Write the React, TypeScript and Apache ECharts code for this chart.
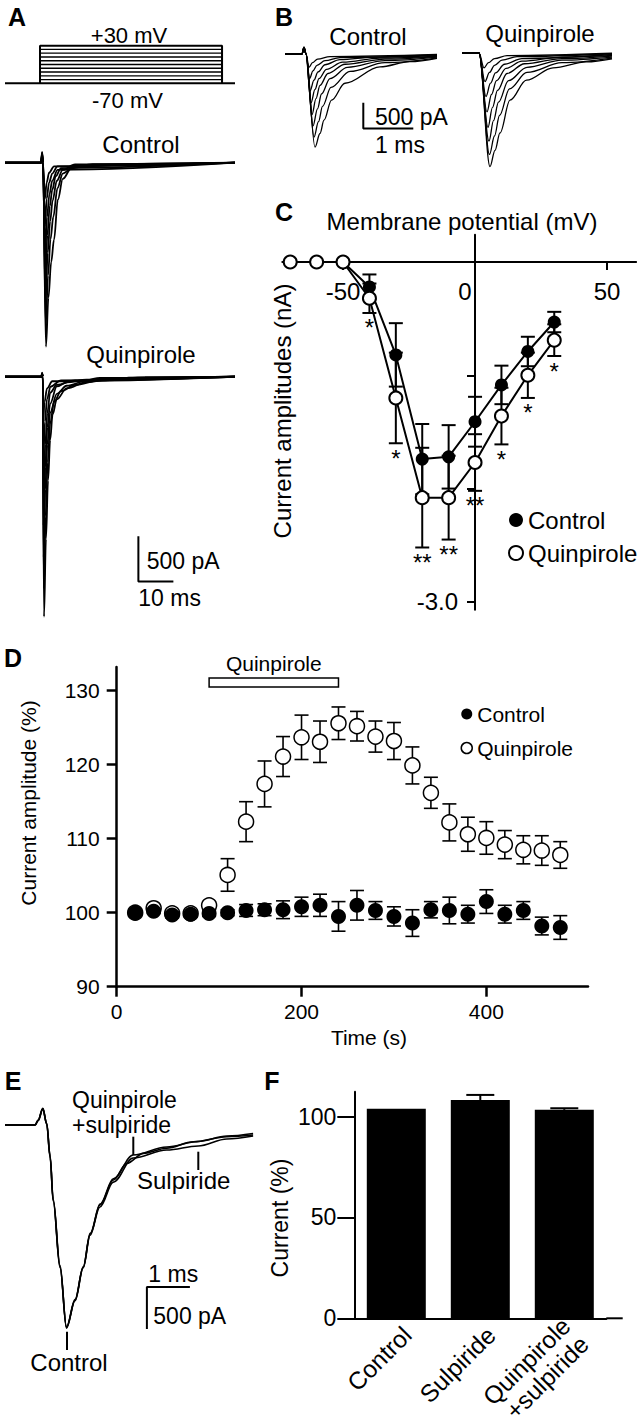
import React, { useEffect, useRef } from 'react';
import * as echarts from 'echarts';

const FONT = "'Liberation Sans', Arial, Helvetica, sans-serif";

// ---------------- Panel A : voltage protocol + current families ----------------
const aHoldingMV = -70;
const aStepLevelsMV = [-60, -50, -40, -30, -20, -10, 0, 10, 20, 30];
const aStepWindowMs = [10, 62];
const aSweepSpanMs = [0, 65.7];

// [time (ms), current (pA)]
const aControlSweeps: number[][][] = [
  [[0, 0], [10.3, 0], [10.6, 120], [10.85, 0], [11.7, -2042], [12.4, -1500], [13.2, -1100], [14, -855], [15.1, -410], [16.5, -180], [19, -60], [25, -15], [65.7, 0]],
  [[0, 0], [10.3, 0], [10.6, 110], [10.85, 0], [11.65, -1800], [12.3, -1250], [13, -850], [13.8, -600], [15, -280], [16.5, -120], [20, -30], [65.7, 0]],
  [[0, 0], [10.3, 0], [10.6, 100], [10.85, 0], [11.6, -1550], [12.2, -1000], [12.9, -650], [13.6, -420], [14.8, -200], [16.5, -80], [20, -20], [65.7, 0]],
  [[0, 0], [10.3, 0], [10.6, 90], [10.85, 0], [11.55, -1300], [12.1, -800], [12.8, -480], [13.5, -300], [14.5, -150], [16, -60], [65.7, 0]],
  [[0, 0], [10.3, 0], [10.6, 80], [10.85, 0], [11.5, -1000], [12, -600], [12.7, -350], [13.5, -200], [15, -80], [65.7, 0]],
  [[0, 0], [10.3, 0], [10.6, 70], [10.85, 0], [11.45, -700], [11.9, -400], [12.6, -220], [13.5, -120], [15, -40], [65.7, 0]],
  [[0, 0], [10.3, 0], [10.6, 60], [10.85, 0], [11.4, -400], [11.9, -220], [12.6, -110], [14, -40], [65.7, 0]],
];
const aQuinpiroleSweeps: number[][][] = [
  [[0, 0], [10.4, 0], [10.6, 45], [10.8, 0], [11.14, -2664], [11.7, -1800], [12.3, -1150], [12.9, -700], [13.6, -420], [14.8, -250], [17.6, -130], [23.3, -60], [30, -25], [40, -8], [65.7, 0]],
  [[0, 0], [10.4, 0], [10.6, 40], [10.8, 0], [11.1, -2350], [11.6, -1550], [12.2, -950], [12.9, -520], [14, -280], [16, -160], [20, -90], [27.1, -40], [40, -10], [65.7, 0]],
  [[0, 0], [10.4, 0], [10.6, 35], [10.8, 0], [11.05, -2000], [11.5, -1250], [12.1, -750], [12.9, -400], [14.8, -190], [17.6, -100], [23.3, -45], [35, -10], [65.7, 0]],
  [[0, 0], [10.4, 0], [10.6, 30], [10.8, 0], [11.0, -1650], [11.5, -1000], [12.1, -560], [12.9, -300], [14.8, -108], [17.6, -63], [23.3, -33], [27.1, -14], [65.7, 0]],
  [[0, 0], [10.4, 0], [10.6, 25], [10.8, 0], [11.0, -1300], [11.5, -750], [12.1, -400], [12.9, -178], [14.8, -90], [20, -40], [65.7, 0]],
  [[0, 0], [10.4, 0], [10.6, 20], [10.8, 0], [10.95, -900], [11.4, -500], [12, -250], [13, -110], [16, -40], [65.7, 0]],
  [[0, 0], [10.4, 0], [10.6, 15], [10.8, 0], [10.9, -500], [11.3, -280], [12, -130], [13.5, -50], [65.7, 0]],
];
const aScaleBar = [[38.1, -1772], [38.1, -2272], [48.1, -2272]]; // 500 pA, 10 ms

// ---------------- Panel B : expanded current families ----------------
const bControlSweeps: number[][][] = [
  [[0, 0], [0.34, 0], [0.38, 130], [0.42, 0], [0.6, -1814], [0.7, -1550], [0.78, -1290], [0.93, -900], [1.2, -570], [1.9, -250], [2.5, -150], [3.04, -85]],
  [[0, 0], [0.34, 0], [0.38, 130], [0.42, 0], [0.58, -1620], [0.67, -1320], [0.75, -1020], [0.92, -650], [1.3, -340], [2.0, -170], [3.04, -75]],
  [[0, 0], [0.34, 0], [0.38, 130], [0.42, 0], [0.56, -1400], [0.65, -1070], [0.73, -780], [0.9, -480], [1.25, -260], [2.0, -130], [3.04, -60]],
  [[0, 0], [0.34, 0], [0.38, 130], [0.42, 0], [0.54, -1180], [0.62, -870], [0.7, -610], [0.86, -380], [1.2, -200], [2.0, -100], [3.04, -50]],
  [[0, 0], [0.34, 0], [0.38, 130], [0.42, 0], [0.52, -950], [0.6, -690], [0.68, -480], [0.83, -300], [1.15, -160], [1.9, -80], [3.04, -40]],
  [[0, 0], [0.34, 0], [0.38, 130], [0.42, 0], [0.5, -720], [0.58, -510], [0.66, -350], [0.8, -210], [1.1, -110], [1.8, -60], [3.04, -30]],
  [[0, 0], [0.34, 0], [0.38, 130], [0.42, 0], [0.49, -480], [0.56, -330], [0.64, -220], [0.8, -130], [1.1, -70], [3.04, -20]],
  [[0, 0], [0.34, 0], [0.38, 130], [0.42, 0], [0.48, -260], [0.55, -170], [0.65, -100], [0.9, -50], [3.04, -10]],
];
const bQuinpiroleSweeps: number[][][] = [
  [[0, 0], [0.34, 0], [0.56, -2217], [0.66, -1900], [0.76, -1560], [0.96, -920], [1.29, -530], [1.82, -290], [2.49, -175], [3.0, -115]],
  [[0, 0], [0.34, 0], [0.55, -1980], [0.65, -1620], [0.75, -1220], [0.95, -700], [1.3, -380], [2.0, -190], [3.0, -100]],
  [[0, 0], [0.34, 0], [0.54, -1720], [0.63, -1320], [0.73, -960], [0.93, -540], [1.3, -280], [2.0, -140], [3.0, -80]],
  [[0, 0], [0.34, 0], [0.52, -1450], [0.61, -1060], [0.71, -730], [0.9, -400], [1.25, -210], [2.0, -110], [3.0, -60]],
  [[0, 0], [0.34, 0], [0.5, -1150], [0.59, -810], [0.69, -540], [0.88, -300], [1.2, -160], [2.0, -80], [3.0, -45]],
  [[0, 0], [0.34, 0], [0.48, -850], [0.57, -590], [0.67, -390], [0.85, -220], [1.2, -110], [3.0, -30]],
  [[0, 0], [0.34, 0], [0.46, -560], [0.55, -380], [0.65, -240], [0.8, -140], [1.1, -70], [3.0, -15]],
  [[0, 0], [0.34, 0], [0.44, -290], [0.53, -190], [0.65, -110], [0.9, -50], [3.0, -5]],
];
const bScaleBar = [[1.566, -950], [1.566, -1450], [2.566, -1450]]; // 500 pA, 1 ms

// ---------------- Panel C : I-V relation ----------------
const cVoltages = [-70, -60, -50, -40, -30, -20, -10, 0, 10, 20, 30];
const cControlMean = [0, 0, 0, -0.22, -0.82, -1.74, -1.72, -1.41, -1.085, -0.79, -0.53];
const cControlSem = [0, 0, 0, 0.11, 0.28, 0.31, 0.28, 0.22, 0.17, 0.13, 0.09];
const cQuinMean = [0, 0, 0, -0.32, -1.2, -2.08, -2.08, -1.77, -1.36, -1.0, -0.69];
const cQuinSem = [0, 0, 0, 0.13, 0.4, 0.44, 0.37, 0.25, 0.25, 0.2, 0.14];
const cSignificance = ['', '', '', '*', '*', '**', '**', '**', '*', '*', '*'];
const cXTicks = [-50, 0, 50];
const cYTicks = [-3, -2, -1];
const cYLabels = [-3];

// ---------------- Panel D : time course ----------------
const dTimes = [20, 40, 60, 80, 100, 120, 140, 160, 180, 200, 220, 240, 260, 280, 300, 320, 340, 360, 380, 400, 420, 440, 460, 480];
const dControlMean = [100.0, 100.2, 99.7, 99.8, 99.9, 100.0, 100.3, 100.4, 100.4, 100.8, 101.0, 99.5, 101.0, 100.3, 99.5, 98.6, 100.4, 100.3, 99.8, 101.5, 99.8, 100.3, 98.2, 98.0];
const dControlSem = [0.3, 0.3, 0.4, 0.3, 0.4, 0.4, 0.8, 0.8, 1.2, 1.3, 1.5, 2.0, 2.0, 1.2, 1.3, 1.8, 1.1, 1.8, 1.2, 1.6, 1.2, 1.2, 1.2, 1.6];
const dQuinMean = [100.0, 100.6, 99.9, 99.9, 101.0, 105.1, 112.3, 117.4, 121.1, 123.7, 123.1, 125.6, 125.2, 123.8, 123.2, 119.9, 116.2, 112.2, 110.6, 110.1, 109.2, 108.5, 108.4, 107.8];
const dQuinSem = [0.3, 0.4, 0.3, 0.3, 0.5, 2.2, 2.7, 3.1, 2.7, 3.0, 2.8, 2.2, 2.0, 2.1, 2.5, 2.5, 2.1, 2.5, 2.3, 2.2, 1.9, 1.9, 2.0, 1.8];
const dQuinApplication = [100, 240]; // s
const dXTicks = [0, 200, 400];
const dYTicks = [90, 100, 110, 120, 130];

// ---------------- Panel E : superimposed traces ----------------
const eControl = [[0, 0], [0.7, 0], [0.77, 60], [0.88, 199], [0.97, 20], [1.05, -377], [1.12, -893], [1.28, -1686], [1.43, -2419], [1.63, -2083], [1.82, -1686], [1.98, -1289], [2.21, -952], [2.52, -655], [2.83, -456], [3.22, -337], [3.76, -277], [4.38, -199], [5.16, -139], [5.77, -119]];
const eSulpiride = [[0, 0], [0.7, 0], [0.77, 50], [0.88, 190], [0.97, 10], [1.05, -390], [1.12, -905], [1.28, -1700], [1.43, -2400], [1.63, -2075], [1.82, -1690], [1.98, -1300], [2.21, -975], [2.52, -680], [2.98, -393], [3.76, -298], [4.49, -250], [5.16, -167], [5.77, -131]];
const eQuinSulp = [[0, 0], [0.7, 0], [0.77, 55], [0.88, 195], [0.97, 15], [1.05, -370], [1.12, -880], [1.28, -1670], [1.43, -2410], [1.63, -2090], [1.82, -1700], [1.98, -1310], [2.21, -940], [2.52, -640], [2.98, -357], [3.76, -262], [4.49, -196], [5.16, -131], [5.77, -101]];
const eScaleBar = [[4.3, -1928], [3.3, -1928], [3.3, -2428]]; // 1 ms, 500 pA

// ---------------- Panel F : bar summary ----------------
const fCategories = ['Control', 'Sulpiride', 'Quinpirole\n+sulpiride'];
const fMeans = [103.8, 108.2, 103.3];
const fSem = [0, 2.5, 0.8];
const fYTicks = [0, 50, 100];

// ---------------- helpers ----------------
const zip = (xs: number[], ys: number[]) => xs.map((x, i) => [x, ys[i]]);
const zip3 = (xs: number[], ys: number[], es: number[]) => xs.map((x, i) => [x, ys[i], es[i]]);

const errBar = (capHalf: number, lw: number, upOnly = false) => (params: any, api: any) => {
  const x = api.value(0);
  const y = api.value(1);
  const e = api.value(2);
  const children: any[] = [];
  if (e > 0) {
    const top = api.coord([x, y + e]);
    const bot = upOnly ? api.coord([x, y]) : api.coord([x, y - e]);
    const st = { stroke: '#000', lineWidth: lw };
    children.push({ type: 'line', shape: { x1: top[0], y1: top[1], x2: bot[0], y2: bot[1] }, style: st });
    children.push({ type: 'line', shape: { x1: top[0] - capHalf, y1: top[1], x2: top[0] + capHalf, y2: top[1] }, style: st });
    if (!upOnly) children.push({ type: 'line', shape: { x1: bot[0] - capHalf, y1: bot[1], x2: bot[0] + capHalf, y2: bot[1] }, style: st });
  }
  return { type: 'group', children };
};

const txt = (text: string, x: number, y: number, o: any = {}) => ({
  type: 'text',
  x,
  y,
  rotation: o.rotation || 0,
  silent: true,
  z: 100,
  style: {
    text,
    fontSize: o.size || 24,
    fontFamily: FONT,
    fontWeight: o.bold ? 'bold' : 'normal',
    fill: '#000',
    align: o.align || 'center',
    textAlign: o.align || 'center',
    verticalAlign: o.valign || 'middle',
    textVerticalAlign: o.valign || 'middle',
    lineHeight: o.lineHeight,
  },
});
const vline = (x: number, y1: number, y2: number) => ({ type: 'line', silent: true, shape: { x1: x, y1, x2: x, y2 }, style: { stroke: '#000', lineWidth: 2 } });

const traceSeries = (sweeps: number[][][], idx: number, width: number) =>
  sweeps.map((pts) => ({
    type: 'line',
    xAxisIndex: idx,
    yAxisIndex: idx,
    data: pts,
    symbol: 'none',
    smooth: 0.35,
    smoothMonotone: 'x',
    silent: true,
    lineStyle: { color: '#000', width },
    z: 2,
  }));

const scaleSeries = (pts: number[][], idx: number) => ({
  type: 'line',
  xAxisIndex: idx,
  yAxisIndex: idx,
  data: pts,
  symbol: 'none',
  silent: true,
  lineStyle: { color: '#000', width: 2 },
  z: 3,
});

const hiddenX = (gridIndex: number, min: number, max: number) => ({ gridIndex, type: 'value', min, max, show: false });

const axisCommon = (w: number) => ({
  axisLine: { show: true, onZero: false, lineStyle: { color: '#000', width: w } },
  splitLine: { show: false },
});

function buildOption() {
  const cGrid = { left: 282.3, top: 234.8, width: 353.8, height: 375 };
  const cZeroX = 475; // pixel column of 0 mV
  const cZeroY = 262; // pixel row of 0 nA
  const grids = [
    { left: 5, top: 41.94, width: 230, height: 45.12 }, // 0 A step
    { left: 5, top: 135.7, width: 230, height: 234.2 }, // 1 A control
    { left: 5, top: 349.7, width: 230, height: 288.3 }, // 2 A quinpirole
    { left: 285, top: 38.6, width: 152, height: 118 }, // 3 B control
    { left: 462, top: 37.6, width: 150, height: 138.4 }, // 4 B quinpirole
    cGrid, // 5 C
    { left: 116.7, top: 667, width: 471.3, height: 319.7 }, // 6 D
    { left: 5, top: 1091.4, width: 248.1, height: 252.1 }, // 7 E
    { left: 354.3, top: 1091.7, width: 252, height: 226.6 }, // 8 F
  ];

  const xAxis: any[] = [
    hiddenX(0, aSweepSpanMs[0], aSweepSpanMs[1]),
    hiddenX(1, aSweepSpanMs[0], aSweepSpanMs[1]),
    hiddenX(2, aSweepSpanMs[0], aSweepSpanMs[1]),
    hiddenX(3, 0, 3.04),
    hiddenX(4, 0, 3.0),
    {
      gridIndex: 5,
      type: 'value',
      position: 'bottom',
      offset: -(cGrid.top + cGrid.height - cZeroY),
      min: -73,
      max: 61,
      axisLine: { show: true, onZero: false, lineStyle: { color: '#000', width: 2 } },
      splitLine: { show: false },
      axisTick: { show: true, customValues: cXTicks, length: 8, lineStyle: { color: '#000', width: 2 } },
      axisLabel: {
        customValues: cXTicks,
        fontSize: 24,
        fontFamily: FONT,
        color: '#000',
        margin: 17,
        formatter: (v: number) => (v === 0 ? '{z|0}' : String(v)),
        rich: { z: { fontSize: 24, fontFamily: FONT, color: '#000', padding: [0, 20, 0, 0] } },
      },
    },
    {
      gridIndex: 6,
      type: 'value',
      min: 0,
      max: 510,
      ...axisCommon(2.5),
      axisTick: { show: true, customValues: dXTicks, length: 10, lineStyle: { color: '#000', width: 2.5 } },
      axisLabel: { customValues: dXTicks, fontSize: 21, fontFamily: FONT, color: '#000', margin: 14 },
    },
    hiddenX(7, 0, 5.77),
    {
      gridIndex: 8,
      type: 'category',
      data: fCategories,
      axisLine: { show: true, lineStyle: { color: '#000', width: 2 } },
      axisTick: { show: false },
      axisLabel: { show: false },
      splitLine: { show: false },
    },
  ];

  const yAxis: any[] = [
    hiddenX(0, -80, 40),
    hiddenX(1, -2300, 300),
    hiddenX(2, -2900, 300),
    hiddenX(3, -2000, 300),
    hiddenX(4, -2400, 300),
    {
      gridIndex: 5,
      type: 'value',
      position: 'left',
      offset: -(cZeroX - cGrid.left),
      min: -3.07,
      max: 0.24,
      axisLine: { show: true, onZero: false, lineStyle: { color: '#000', width: 2 } },
      splitLine: { show: false },
      axisTick: { show: true, customValues: cYTicks, length: 8, lineStyle: { color: '#000', width: 2 } },
      axisLabel: { customValues: cYLabels, fontSize: 24, fontFamily: FONT, color: '#000', margin: 17, formatter: (v: number) => v.toFixed(1) },
    },
    {
      gridIndex: 6,
      type: 'value',
      min: 90,
      max: 133.2,
      ...axisCommon(2.5),
      axisTick: { show: true, customValues: dYTicks, length: 10, lineStyle: { color: '#000', width: 2.5 } },
      axisLabel: { customValues: dYTicks, fontSize: 21, fontFamily: FONT, color: '#000', margin: 17 },
    },
    hiddenX(7, -2600, 400),
    {
      gridIndex: 8,
      type: 'value',
      min: 0,
      max: 112.3,
      ...axisCommon(2),
      axisTick: { show: true, customValues: fYTicks, length: 17, lineStyle: { color: '#000', width: 2 } },
      axisLabel: { customValues: fYTicks, fontSize: 23, fontFamily: FONT, color: '#000', margin: 18 },
    },
  ];

  const series: any[] = [];

  // A: voltage protocol
  series.push({
    type: 'line', xAxisIndex: 0, yAxisIndex: 0, symbol: 'none', silent: true,
    data: [[aSweepSpanMs[0], aHoldingMV], [aSweepSpanMs[1], aHoldingMV]],
    lineStyle: { color: '#000', width: 2 },
  });
  aStepLevelsMV.forEach((v) => {
    series.push({
      type: 'line', xAxisIndex: 0, yAxisIndex: 0, symbol: 'none', silent: true,
      data: [[aStepWindowMs[0], aHoldingMV], [aStepWindowMs[0], v], [aStepWindowMs[1], v], [aStepWindowMs[1], aHoldingMV]],
      lineStyle: { color: '#000', width: v === 30 ? 2 : 1.3 },
    });
  });
  series.push(...traceSeries(aControlSweeps, 1, 1.8));
  series.push(...traceSeries(aQuinpiroleSweeps, 2, 1.8));
  series.push(scaleSeries(aScaleBar, 2));

  // B
  series.push(...traceSeries(bControlSweeps, 3, 1.3));
  series.push(...traceSeries(bQuinpiroleSweeps, 4, 1.3));
  series.push(scaleSeries(bScaleBar, 3));

  // C
  series.push({
    type: 'custom', xAxisIndex: 5, yAxisIndex: 5, silent: true, z: 2, clip: false,
    data: zip3(cVoltages, cControlMean, cControlSem), renderItem: errBar(7, 2),
  });
  series.push({
    type: 'custom', xAxisIndex: 5, yAxisIndex: 5, silent: true, z: 2, clip: false,
    data: zip3(cVoltages, cQuinMean, cQuinSem), renderItem: errBar(7, 2),
  });
  series.push({
    name: 'Control', type: 'line', xAxisIndex: 5, yAxisIndex: 5, z: 3,
    data: zip(cVoltages, cControlMean), symbol: 'circle', symbolSize: 13, showAllSymbol: true,
    itemStyle: { color: '#000' }, lineStyle: { color: '#000', width: 2 },
  });
  series.push({
    name: 'Quinpirole', type: 'line', xAxisIndex: 5, yAxisIndex: 5, z: 4,
    data: zip(cVoltages, cQuinMean), symbol: 'circle', symbolSize: 13, showAllSymbol: true,
    itemStyle: { color: '#fff', borderColor: '#000', borderWidth: 2 }, lineStyle: { color: '#000', width: 2 },
  });
  series.push({
    type: 'custom', xAxisIndex: 5, yAxisIndex: 5, silent: true, z: 5, clip: false,
    data: zip(cVoltages, cQuinMean.map((m, i) => m - cQuinSem[i])),
    renderItem: (params: any, api: any) => {
      const label = cSignificance[params.dataIndex];
      if (!label) return { type: 'group', children: [] };
      const p = api.coord([api.value(0), api.value(1)]);
      return {
        type: 'text', x: p[0], y: p[1] + 3,
        style: { text: label, fontSize: 24, fontFamily: FONT, fill: '#000', align: 'center', textAlign: 'center', verticalAlign: 'top', textVerticalAlign: 'top' },
      };
    },
  });

  // D
  series.push({
    type: 'custom', xAxisIndex: 6, yAxisIndex: 6, silent: true, z: 2, clip: false,
    data: zip3(dTimes, dQuinMean, dQuinSem), renderItem: errBar(7, 1.6),
  });
  series.push({
    name: 'Quinpirole', type: 'scatter', xAxisIndex: 6, yAxisIndex: 6, z: 3,
    data: zip(dTimes, dQuinMean), symbol: 'circle', symbolSize: 15,
    itemStyle: { color: '#fff', borderColor: '#000', borderWidth: 1.5, opacity: 1 },
    markArea: {
      silent: true,
      itemStyle: { color: '#fff', borderColor: '#000', borderWidth: 1.5, opacity: 1 },
      label: { show: true, position: 'top', distance: 3, fontSize: 21, fontFamily: FONT, color: '#000' },
      data: [[{ name: 'Quinpirole', xAxis: dQuinApplication[0], yAxis: 130.5 }, { xAxis: dQuinApplication[1], yAxis: 131.7 }]],
    },
  });
  series.push({
    type: 'custom', xAxisIndex: 6, yAxisIndex: 6, silent: true, z: 4, clip: false,
    data: zip3(dTimes, dControlMean, dControlSem), renderItem: errBar(7, 1.6),
  });
  series.push({
    name: 'Control', type: 'scatter', xAxisIndex: 6, yAxisIndex: 6, z: 5,
    data: zip(dTimes, dControlMean), symbol: 'circle', symbolSize: 15,
    itemStyle: { color: '#000', opacity: 1 },
  });

  // E
  [eControl, eSulpiride, eQuinSulp].forEach((pts) => {
    series.push({
      type: 'line', xAxisIndex: 7, yAxisIndex: 7, data: pts, symbol: 'none', smooth: 0.35, smoothMonotone: 'x',
      silent: true, lineStyle: { color: '#000', width: 1.6 },
    });
  });
  series.push(scaleSeries(eScaleBar, 7));

  // F
  series.push({
    type: 'bar', xAxisIndex: 8, yAxisIndex: 8, data: fMeans, barWidth: 59, silent: true,
    itemStyle: { color: '#000' }, z: 2,
  });
  series.push({
    type: 'custom', xAxisIndex: 8, yAxisIndex: 8, silent: true, z: 3, clip: false,
    data: fMeans.map((m, i) => [i, m, fSem[i]]), renderItem: errBar(14, 2, true),
  });

  const fCenter0 = 354.3 + 42;
  const graphics: any[] = [
    // A
    txt('A', 17, 17, { bold: true, size: 25 }),
    txt('+30 mV', 129, 35, { size: 22 }),
    txt('-70 mV', 127.5, 100.5, { size: 22 }),
    txt('Control', 141, 144),
    txt('Quinpirole', 141, 354),
    txt('500 pA', 146.7, 561, { align: 'left', size: 23 }),
    txt('10 ms', 138.3, 598, { align: 'left', size: 23 }),
    // B
    txt('B', 284, 17, { bold: true, size: 25 }),
    txt('Control', 368, 36),
    txt('Quinpirole', 540, 33),
    txt('500 pA', 375, 117, { align: 'left', size: 23 }),
    txt('1 ms', 400, 145, { size: 23 }),
    // C
    txt('C', 284, 212, { bold: true, size: 25 }),
    txt('Membrane potential (mV)', 462, 221),
    txt('Current amplitudes (nA)', 282, 411, { rotation: Math.PI / 2 }),
    // D
    txt('D', 13, 658, { bold: true, size: 25 }),
    txt('Current amplitude (%)', 28, 803, { rotation: Math.PI / 2, size: 21 }),
    txt('Time (s)', 369, 1037, { size: 21 }),
    // E
    txt('E', 13, 1081, { bold: true, size: 25 }),
    txt('Quinpirole', 72, 1100, { align: 'left', size: 23, lineHeight: 23 }),
    txt('+sulpiride', 72, 1125, { align: 'left', size: 23, lineHeight: 23 }),
    txt('Sulpiride', 137, 1180, { align: 'left' }),
    txt('Control', 69, 1362),
    txt('1 ms', 148.3, 1274, { align: 'left', size: 23 }),
    txt('500 pA', 153.3, 1316, { align: 'left', size: 23 }),
    vline(133.3, 1136.7, 1155),
    vline(198.3, 1151.7, 1170),
    vline(67, 1331.7, 1350),
    // F
    txt('F', 272, 1081, { bold: true, size: 25 }),
    txt('Current (%)', 280, 1218, { rotation: Math.PI / 2, size: 23 }),
    { type: 'line', silent: true, shape: { x1: 606.3, y1: 1318.3, x2: 622.7, y2: 1318.3 }, style: { stroke: '#000', lineWidth: 2 } },
    ...fCategories.map((c, i) =>
      txt(c, fCenter0 + 84 * i + 11, 1331, { rotation: Math.PI / 4, align: 'right', size: 24.5, lineHeight: 26 })
    ),
  ];

  return {
    animation: false,
    backgroundColor: '#fff',
    textStyle: { fontFamily: FONT },
    grid: grids,
    xAxis,
    yAxis,
    legend: [
      {
        orient: 'vertical', left: 503, top: 503, itemWidth: 14, itemHeight: 14, itemGap: 9, icon: 'circle',
        selectedMode: false,
        textStyle: { fontSize: 24, fontFamily: FONT, color: '#000', lineHeight: 24 },
        data: [
          { name: 'Control', itemStyle: { color: '#000', borderWidth: 0 } },
          { name: 'Quinpirole', itemStyle: { color: '#fff', borderColor: '#000', borderWidth: 2 } },
        ],
      },
      {
        orient: 'vertical', left: 455.5, top: 698.5, itemWidth: 11, itemHeight: 11, itemGap: 13, icon: 'circle',
        selectedMode: false,
        textStyle: { fontSize: 21, fontFamily: FONT, color: '#000', lineHeight: 21 },
        data: [
          { name: 'Control', itemStyle: { color: '#000', borderWidth: 0 } },
          { name: 'Quinpirole', itemStyle: { color: '#fff', borderColor: '#000', borderWidth: 1.5 } },
        ],
      },
    ],
    series,
    graphic: { elements: graphics },
  };
}

export default function App() {
  const ref = useRef<HTMLDivElement>(null);
  useEffect(() => {
    if (!ref.current) return;
    const chart = echarts.init(ref.current, undefined, { renderer: 'svg' });
    chart.setOption(buildOption() as any);
    return () => chart.dispose();
  }, []);
  return <div ref={ref} style={{ position: 'absolute', left: 0, top: 0, width: 640, height: 1427, background: '#fff' }} />;
}
